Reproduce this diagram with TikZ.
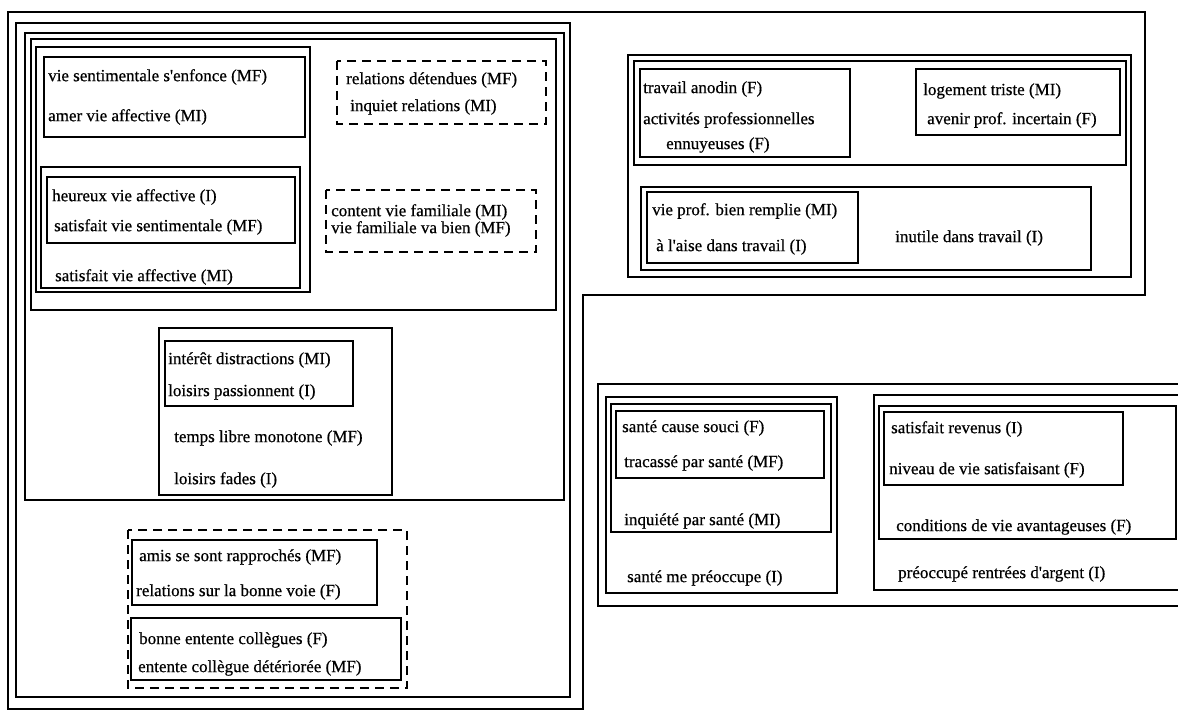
\documentclass[tikz,border=0pt]{standalone}
\usepackage{fontspec}
\setmainfont{Liberation Serif}
\newfontfamily\scanfont{Liberation Serif}[FakeBold=0.6]
\usepackage{tikz}

\begin{document}
\begin{tikzpicture}[x=1pt, y=-1pt,
    boxline/.style={line width=1.2pt},
    dashline/.style={line width=1.1pt, dash pattern=on 9pt off 6pt},
    lbl/.style={anchor=west, inner sep=0pt, font=\scanfont\fontsize{17}{20}\selectfont}]
    \useasboundingbox (0,0) rectangle (1178,711);
    \clip (0,0) rectangle (1178,711);

    % Outermost frame (L-shaped)
    \draw[boxline] (8,12) -- (1145,12) -- (1145,295) -- (583,295) -- (583,709) -- (8,709) -- cycle;

    % Left part: nested frames
    \draw[boxline] (16,23) rectangle (570,697);
    \draw[boxline] (25,33) rectangle (564,500);
    \draw[boxline] (31,39) rectangle (556,310);
    \draw[boxline] (36,47) rectangle (310,292);
    \draw[boxline] (44,57) rectangle (305,137);
    \draw[boxline] (41,167) rectangle (300,288);
    \draw[boxline] (47,177) rectangle (295,243);
    \draw[dashline] (337,61) rectangle (546,124);
    \draw[dashline] (326,190) rectangle (536,252);

    % Leisure frames
    \draw[boxline] (159,328) rectangle (392,495);
    \draw[boxline] (165,341) rectangle (353,406);

    % Friends and colleagues
    \draw[dashline] (128,530) rectangle (407,688);
    \draw[boxline] (132,540) rectangle (377,605);
    \draw[boxline] (131,618) rectangle (401,680);

    % Work and housing
    \draw[boxline] (628,55) rectangle (1131,277);
    \draw[boxline] (634,61) rectangle (1126,165);
    \draw[boxline] (640,69) rectangle (850,157);
    \draw[boxline] (916,69) rectangle (1120,135);
    \draw[boxline] (641,187) rectangle (1091,270);
    \draw[boxline] (647,192) rectangle (858,263);

    % Health and money
    \draw[boxline] (1190,384) -- (598,384) -- (598,606) -- (1190,606);
    \draw[boxline] (606,397) rectangle (837,593);
    \draw[boxline] (611,404) rectangle (831,532);
    \draw[boxline] (616,411) rectangle (824,478);
    \draw[boxline] (1190,395) -- (874,395) -- (874,590) -- (1190,590);
    \draw[boxline] (879,406) rectangle (1176,539);
    \draw[boxline] (884,412) rectangle (1123,485);

    % Labels, affective life
    \node[lbl] (sentEnf) at (48,77) {vie sentimentale s\textquotesingle enfonce (MF)};
    \node[lbl] (amerAff) at (48,117) {amer vie affective (MI)};
    \node[lbl] (relDet) at (346,80) {relations détendues (MF)};
    \node[lbl] (inqRel) at (350,107) {inquiet relations (MI)};
    \node[lbl] (heurAff) at (52,197) {heureux vie affective (I)};
    \node[lbl] (satSent) at (54,227) {satisfait vie sentimentale (MF)};
    \node[lbl] (satAff) at (55,277) {satisfait vie affective (MI)};
    \node[lbl] (contFam) at (331,212) {content vie familiale (MI)};
    \node[lbl] (famBien) at (331,229) {vie familiale va bien (MF)};

    % Labels, leisure
    \node[lbl] (intDist) at (168,360) {intérêt distractions (MI)};
    \node[lbl] (loisPass) at (168,392) {loisirs passionnent (I)};
    \node[lbl] (tempsMon) at (174,438) {temps libre monotone (MF)};
    \node[lbl] (loisFad) at (174,480) {loisirs fades (I)};

    % Labels, friends and colleagues
    \node[lbl] (amisRap) at (139,557) {amis se sont rapprochés (MF)};
    \node[lbl] (relVoie) at (136,592) {relations sur la bonne voie (F)};
    \node[lbl] (bonColl) at (139,640) {bonne entente collègues (F)};
    \node[lbl] (entDet) at (138,668) {entente collègue détériorée (MF)};

    % Labels, work and housing
    \node[lbl] (travAno) at (643,89) {travail anodin (F)};
    \node[lbl] (actPro) at (643,120) {activités professionnelles};
    \node[lbl] (actEnn) at (666,145) {ennuyeuses (F)};
    \node[lbl] (logTri) at (923,91) {logement triste (MI)};
    \node[lbl] (avInc) at (927,120) {avenir prof. incertain (F)};
    \node[lbl] (vieRem) at (652,211) {vie prof. bien remplie (MI)};
    \node[lbl] (aiseTrav) at (656,247) {à l\textquotesingle aise dans travail (I)};
    \node[lbl] (inutTrav) at (895,238) {inutile dans travail (I)};

    % Labels, health and money
    \node[lbl] (santSouci) at (622,428) {santé cause souci (F)};
    \node[lbl] (tracSant) at (624,463) {tracassé par santé (MF)};
    \node[lbl] (inqSant) at (624,521) {inquiété par santé (MI)};
    \node[lbl] (santPreo) at (627,578) {santé me préoccupe (I)};
    \node[lbl] (satRev) at (891,429) {satisfait revenus (I)};
    \node[lbl] (nivVie) at (889,470) {niveau de vie satisfaisant (F)};
    \node[lbl] (condVie) at (896,527) {conditions de vie avantageuses (F)};
    \node[lbl] (preoArg) at (898,574) {préoccupé rentrées d\textquotesingle argent (I)};
\end{tikzpicture}
\end{document}
